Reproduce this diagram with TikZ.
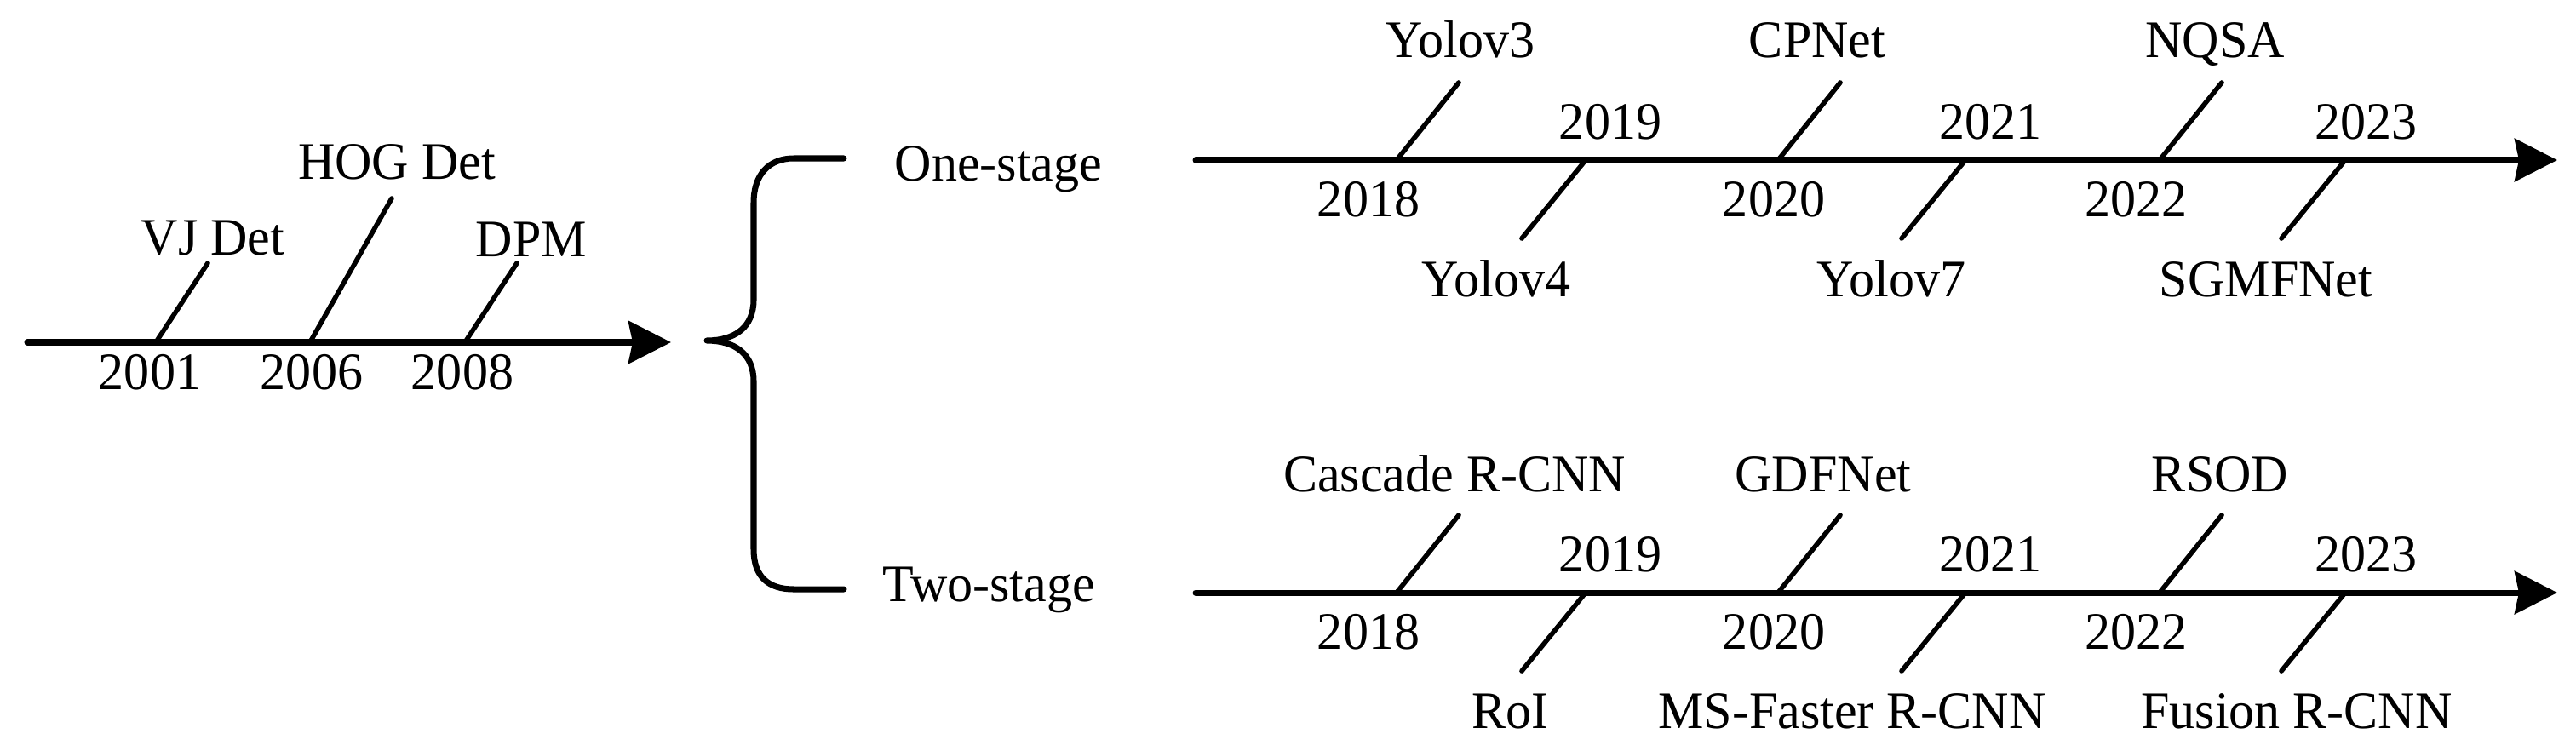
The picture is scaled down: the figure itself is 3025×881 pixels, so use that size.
\documentclass[tikz,border=0pt]{standalone}
\usepackage{fontspec}
\setmainfont{Liberation Serif}[FakeStretch=0.97]
\usetikzlibrary{arrows.meta}
\begin{document}
\begin{tikzpicture}[x=0.01cm,y=-0.01cm,
  axis/.style={line width=2pt, line cap=round, -{Stealth[length=5mm,width=5mm,inset=0.5mm]}},
  tickline/.style={line width=1.6pt, line cap=round},
  bracestroke/.style={line width=2pt, line cap=round, line join=round},
  lbl/.style={anchor=base, inner sep=0pt, font=\fontsize{17.6}{20}\selectfont},
  ]
\useasboundingbox (0,0) rectangle (3025,881);

% ---------------- left timeline ----------------
\coordinate (L0) at (32,402);
\coordinate (L1) at (788,402);
\draw[axis] (L0) -- (L1);
\coordinate (t01a) at (183,402); \coordinate (t01b) at (244,309);
\coordinate (t06a) at (364,402); \coordinate (t06b) at (460,233);
\coordinate (t08a) at (546,402); \coordinate (t08b) at (607,309);
\draw[tickline] (t01a) -- (t01b);
\draw[tickline] (t06a) -- (t06b);
\draw[tickline] (t08a) -- (t08b);
\node[lbl] (vj)  at (250,299) {VJ Det};
\node[lbl] (hog) at (466,210) {HOG Det};
\node[lbl] (dpm) at (624,301) {DPM};
\node[lbl] (y2001) at (176,457) {2001};
\node[lbl] (y2006) at (366,457) {2006};
\node[lbl] (y2008) at (543,457) {2008};

% ---------------- brace ----------------
\draw[bracestroke] (991,186) -- (932,186)
  .. controls (903,186) and (885,205) .. (885,238) -- (885,352)
  .. controls (885,385) and (862,400) .. (830,400)
  .. controls (862,400) and (885,415) .. (885,448) -- (885,645)
  .. controls (885,678) and (903,692) .. (932,692) -- (991,692);
\node[lbl, anchor=base west] (one) at (1050,212) {One-stage};
\node[lbl, anchor=base west] (two) at (1036,706) {Two-stage};

% ---------------- right timelines ----------------
\foreach \dy/\nm in {0/A, 508/B} {
  \begin{scope}[shift={(0,\dy)}]
    \coordinate (\nm s) at (1404,188);
    \coordinate (\nm e) at (3003,188);
    \draw[axis] (\nm s) -- (\nm e);
    \foreach \x/\k in {1640/1, 2088/2, 2536/3} {
      \coordinate (\nm u\k a) at (\x,188);
      \coordinate (\nm u\k b) at (\x+73,97);
      \draw[tickline] (\nm u\k a) -- (\nm u\k b);
    }
    \foreach \x/\k in {1862/1, 2308/2, 2754/3} {
      \coordinate (\nm d\k a) at (\x,188);
      \coordinate (\nm d\k b) at (\x-75,280);
      \draw[tickline] (\nm d\k a) -- (\nm d\k b);
    }
    \node[lbl] (\nm y2019) at (1891,163) {2019};
    \node[lbl] (\nm y2021) at (2337,163) {2021};
    \node[lbl] (\nm y2023) at (2778,163) {2023};
    \node[lbl] (\nm y2018) at (1607,254) {2018};
    \node[lbl] (\nm y2020) at (2083,254) {2020};
    \node[lbl] (\nm y2022) at (2508,254) {2022};
  \end{scope}
}
% labels, one-stage
\node[lbl] (yolo3) at (1715,67) {Yolov3};
\node[lbl] (cpnet) at (2134,67) {CPNet};
\node[lbl] (nqsa)  at (2601,67) {NQSA};
\node[lbl] (yolo4) at (1757,348) {Yolov4};
\node[lbl] (yolo7) at (2221,348) {Yolov7};
\node[lbl] (sgmf)  at (2661,348) {SGMFNet};
% labels, two-stage
\node[lbl] (casc)  at (1708,577) {Cascade R-CNN};
\node[lbl] (gdf)   at (2141,577) {GDFNet};
\node[lbl] (rsod)  at (2607,577) {RSOD};
\node[lbl] (roi)   at (1773,855) {RoI};
\node[lbl] (msf)   at (2175,855) {MS-Faster R-CNN};
\node[lbl] (fus)   at (2697,855) {Fusion R-CNN};
\end{tikzpicture}
\end{document}
